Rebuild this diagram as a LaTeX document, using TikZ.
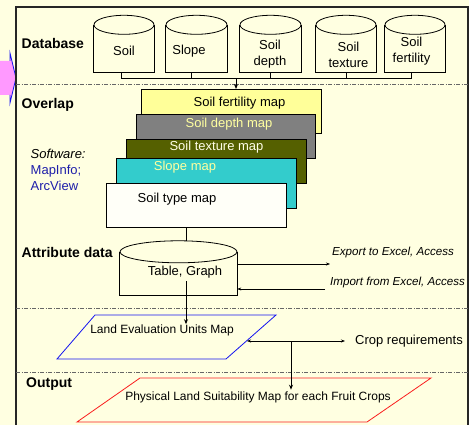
\documentclass[tikz,border=0pt]{standalone}
\usepackage{fontspec}
\setmainfont{Liberation Sans}
\usetikzlibrary{arrows.meta}
\definecolor{bg}{RGB}{255,255,225}
\definecolor{fertc}{RGB}{255,255,153}
\definecolor{depthc}{RGB}{128,128,128}
\definecolor{texc}{RGB}{85,96,0}
\definecolor{slopec}{RGB}{51,204,204}
\definecolor{typec}{RGB}{255,255,248}
\definecolor{lyel}{RGB}{255,255,160}
\definecolor{pinkc}{RGB}{255,153,255}
\definecolor{swblue}{RGB}{30,30,170}
\definecolor{pblue}{RGB}{20,20,240}
\definecolor{pred}{RGB}{250,30,30}
\newcommand\cylsides[2]{%
  \draw[line width=0.8pt] (#1.north west) -- (#1.south west) -- (#1.south east) -- (#1.north east);
  \draw[line width=0.8pt] (#1.north) ellipse [x radius=#2, y radius=9.5];}
\begin{document}
\begin{tikzpicture}[x=1pt,y=-1pt,
  tx/.style={inner sep=0pt, font=\fontsize{13}{16}\selectfont, align=center},
  tsm/.style={inner sep=0pt, font=\fontsize{12}{14}\selectfont},
  tit/.style={inner sep=0pt, font=\fontsize{11.6}{14}\selectfont\itshape, anchor=west},
  hd/.style={inner sep=0pt, font=\fontsize{14}{16}\selectfont\bfseries, anchor=west},
  cylb/.style={draw=none, inner sep=0pt, minimum height=47pt},
  mapbox/.style={draw, line width=0.8pt, anchor=north west, inner sep=0pt, minimum width=180pt, minimum height=44pt},
  sep/.style={draw=black!60, line width=0.7pt, dash pattern=on 4pt off 1.5pt on 1pt off 1.5pt},
  arr/.style={-{Stealth[length=5pt,width=4pt]}, line width=0.8pt},
  tarr/.style={-{Stealth[length=4pt,width=3pt]}, line width=0.5pt},
  darr/.style={{Stealth[length=4pt,width=3pt]}-{Stealth[length=4pt,width=3pt]}, line width=0.8pt}]
\path[use as bounding box, fill=bg] (0,0) rectangle (469,425);

% left pink arrow
\fill[pinkc] (0,61) -- (10,61) -- (10,53) -- (16,78) -- (10,103) -- (10,95) -- (0,95) -- cycle;
\draw[pblue, line width=0.8pt] (10,61) -- (10,53) -- (16,78) -- (10,103) -- (10,95);

% frame
\draw[line width=1.5pt, black!85] (16,440) -- (16,7) -- (468,7) -- (468,440);

% separators
\draw[sep] (16,84) -- (468,84);
\draw[sep] (16,308) -- (468,308);
\draw[sep] (16,372) -- (468,372);

% section labels
\node[hd] (hdb) at (21.5,43.5) {Database};
\node[hd] (hov) at (21.5,105) {Overlap};
\node[hd] (hat) at (21.5,252) {Attribute data};
\node[hd] (hout) at (26,384) {Output};
\node[inner sep=0pt, font=\fontsize{13}{16}\selectfont, align=left, anchor=west] (sw) at (30.5,169.5)
  {\textit{Software:}\\\textcolor{swblue}{MapInfo;}\\\textcolor{swblue}{ArcView}};

% database cylinders
\node[cylb, minimum width=60pt] (soil) at (124,48.5) {};
\node[cylb, minimum width=61pt] (slope) at (196.5,48.5) {};
\node[cylb, minimum width=61pt] (depth) at (270.5,48.5) {};
\node[cylb, minimum width=60pt] (texture) at (346,48.5) {};
\node[cylb, minimum width=60pt] (fert) at (415,48.5) {};
\cylsides{soil}{30}
\cylsides{slope}{30.5}
\cylsides{depth}{30.5}
\cylsides{texture}{30}
\cylsides{fert}{30}
\node[tx] (soilT) at (124,51) {Soil};
\node[tx] (slopeT) at (189,51) {Slope};
\node[tx] (depthT) at (270,54.5) {Soil\\depth};
\node[tx] (textureT) at (348.5,54.5) {Soil\\texture};
\node[tx] (fertT) at (411.5,51) {Soil\\fertility};

% bus
\coordinate (bus) at (236,78.5);
\draw[line width=0.8pt] ([xshift=-3pt]soil.south) -- ([xshift=-3pt]soil.south |- bus) -- ([xshift=-4pt]fert.south |- bus) -- ([xshift=-4pt]fert.south);
\draw[line width=0.8pt] ([xshift=-5.5pt]slope.south) -- ([xshift=-5.5pt]slope.south |- bus);
\draw[line width=0.8pt] (depth.south) -- (depth.south |- bus);
\draw[line width=0.8pt] (texture.south) -- (texture.south |- bus);

% map stack
\node[mapbox, fill=fertc] (fertmap) at (141,89) {};
\node[tx] (fertmapT) at (239.5,103) {Soil fertility map};
\node[mapbox, fill=depthc, minimum width=179pt] (depthmap) at (136,114) {};
\node[tx, text=lyel] (depthmapT) at (229,124) {Soil depth map};
\node[mapbox, fill=texc] (texmap) at (126,139) {};
\node[tx, text=white!90!yellow] (texmapT) at (216.5,147.5) {Soil texture map};
\node[mapbox, fill=slopec, minimum height=50pt] (slopemap) at (116,158) {};
\node[tx, text=lyel] (slopemapT) at (185,167.5) {Slope map};
\node[mapbox, fill=typec] (typemap) at (106,183) {};
\node[tx] (typemapT) at (177,199) {Soil type map};

\draw[arr] (bus) -- (bus |- fertmap.north);

% table cylinder
\node[cylb, minimum width=117pt, minimum height=43pt] (table) at (178.5,273.5) {};
\draw[line width=0.8pt] (table.north west) -- (table.south west) -- (table.south east) -- (table.north east);
\draw[line width=0.8pt] (table.north) ellipse [x radius=58.5, y radius=11];
\node[tx] (tableT) at (185,272) {Table, Graph};
\draw[line width=0.8pt] ([xshift=-10pt]typemap.south) -- ([xshift=-10pt,yshift=10.9pt]typemap.south |- table.north);

% export / import
\coordinate (expE) at (330,264);
\coordinate (impS) at (325,289);
\draw[tarr] (table.east |- expE) -- (expE);
\draw[tarr] (impS) -- (impS -| table.east);
\node[tit] (expT) at (332,253) {Export to Excel, Access};
\node[tit] (impT) at (330,283) {Import from Excel, Access};

% land evaluation units map
\coordinate (levTL) at (95,315);
\coordinate (levTR) at (276,315);
\coordinate (levBR) at (226,359);
\coordinate (levBL) at (57,359);
\draw[pblue, line width=0.8pt] (levTL) -- (levTR) -- (levBR) -- (levBL) -- cycle;
\node[tsm] (lev) at (162,330) {Land Evaluation Units Map};
\draw[arr] ([xshift=1pt,yshift=-3pt]tableT.south) -- ([xshift=1pt]tableT.south |- lev.north);

% crop requirements
\node[tx, anchor=west] (crop) at (355,341) {Crop requirements};
\coordinate (cropL) at (247,341);
\coordinate (cropJ) at (291,341);
\draw[darr] (cropL) -- ([xshift=-10pt]crop.west);

% physical land suitability map
\coordinate (plTL) at (140,378);
\coordinate (plTR) at (431,378);
\coordinate (plBR) at (367,422);
\coordinate (plBL) at (77,422);
\draw[pred, line width=0.8pt] (plTL) -- (plTR) -- (plBR) -- (plBL) -- cycle;
\node[tsm] (pl) at (258,397) {Physical Land Suitability Map for each Fruit Crops};
\draw[arr] (cropJ) -- ([yshift=1.5pt]cropJ |- pl.north);
\end{tikzpicture}
\end{document}
